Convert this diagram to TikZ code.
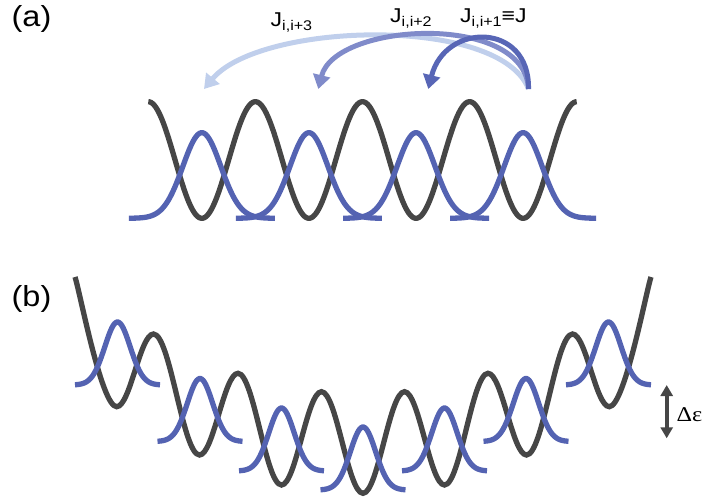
\documentclass[tikz,border=0pt]{standalone}
\usepackage{fontspec}
\usepackage{graphicx}
\setmainfont{Liberation Sans}
\newfontfamily\greekserif{Liberation Serif}
\usetikzlibrary{arrows.meta}
\definecolor{wblue}{RGB}{84,99,178}
\definecolor{wdark}{RGB}{70,70,70}
\definecolor{hopD}{RGB}{88,102,182}
\definecolor{hopM}{RGB}{128,139,202}
\definecolor{hopL}{RGB}{192,207,236}
\newcommand{\jsub}[1]{\raisebox{-3.5pt}{\fontsize{14}{14}\selectfont #1}}
\begin{document}
\begin{tikzpicture}[x=1pt,y=-1pt,
  wave/.style={line width=5.3pt, draw=wdark},
  orb/.style={line width=5.3pt, draw=wblue},
  hop/.style={line width=5pt, -{Triangle[width=17pt,length=14pt]}},
  panlbl/.style={inner sep=0pt, anchor=base, font=\fontsize{29}{30}\selectfont},
  jlbl/.style={inner sep=0pt, anchor=base west, font=\fontsize{20}{21}\selectfont}
]
\useasboundingbox (0,0) rectangle (705,503);

% ---------- panel (a) ----------
\node[panlbl] (la) at (31.5,27) {\scalebox{1.12}[1]{(a)}};

\draw[wave] plot[domain=148.3:576.7, samples=300]
  (\x, {160-58.3*cos((\x-148.3)/107.1*360)});
\foreach \c in {201.85,308.95,416.05,523.15}
  \draw[orb] plot[domain=-73:73, samples=90]
    ({\c+\x}, {218.3-85.6*exp(-0.5*(\x/19)^2)});

\coordinate (src) at (528.5,89);
\coordinate (t1) at (428.3,89);
\coordinate (t2) at (318.3,89);
\coordinate (t3) at (204,89);
\draw[hop, draw=hopL] (src) .. controls (500,15) and (260,22) .. (t3);
\draw[hop, draw=hopM] (src) .. controls (525,12) and (335,22) .. (t2);
\draw[hop, draw=hopD] (src) .. controls (530,22) and (445,22) .. (t1);

\node[jlbl] (j3) at (270.5,27) {\scalebox{1.15}[1]{J\jsub{i,i+3}}};
\node[jlbl] (j2) at (390,23) {\scalebox{1.15}[1]{J\jsub{i,i+2}}};
\node[jlbl] (j1) at (460,23) {\scalebox{1.15}[1]{J\jsub{i,i+1}≡J}};

% ---------- panel (b) ----------
\node[panlbl] (lb) at (31.5,306) {\scalebox{1.12}[1]{(b)}};

\draw[wave] (75,277) .. controls (80,292) and (101.5,406.7) .. (116.7,406.7)
 .. controls (130.1,406.7) and (140.1,334) .. (153.5,334)
 .. controls (170.2,334) and (182.8,455) .. (199.5,455)
 .. controls (213.5,455) and (224,373.3) .. (238,373.3)
 .. controls (253.8,373.3) and (265.7,485) .. (281.5,485)
 .. controls (296,485) and (307,391.7) .. (321.5,391.7)
 .. controls (336.6,391.7) and (347.9,493.3) .. (363,493.3)
 .. controls (378.1,493.3) and (389.4,391.7) .. (404.5,391.7)
 .. controls (419,391.7) and (430,485) .. (444.5,485)
 .. controls (460.3,485) and (472.2,373.3) .. (488,373.3)
 .. controls (502,373.3) and (512.5,455) .. (526.5,455)
 .. controls (543.2,455) and (555.8,334) .. (572.5,334)
 .. controls (585.9,334) and (595.9,406.7) .. (609.3,406.7)
 .. controls (624.5,406.7) and (646,292) .. (651,277);

\foreach \c/\b in {117.5/385, 200/441.5, 281.5/471, 363/490, 444.5/471, 526/441.5, 608.5/385}
  \draw[orb] plot[domain=-42.5:42.5, samples=70]
    ({\c+\x}, {\b-63*exp(-0.5*(\x/12.7)^2)});

\coordinate (de1) at (666.7,385);
\coordinate (de2) at (666.7,438.3);
\draw[line width=4pt, draw=wdark,
  {Triangle[width=12pt,length=11pt]}-{Triangle[width=12pt,length=11pt]}] (de1) -- (de2);
\node[inner sep=0pt, anchor=base west, font=\greekserif\fontsize{21}{22}\selectfont]
  (de) at (676.5,421) {\scalebox{1.15}[1]{Δε}};
\end{tikzpicture}
\end{document}
